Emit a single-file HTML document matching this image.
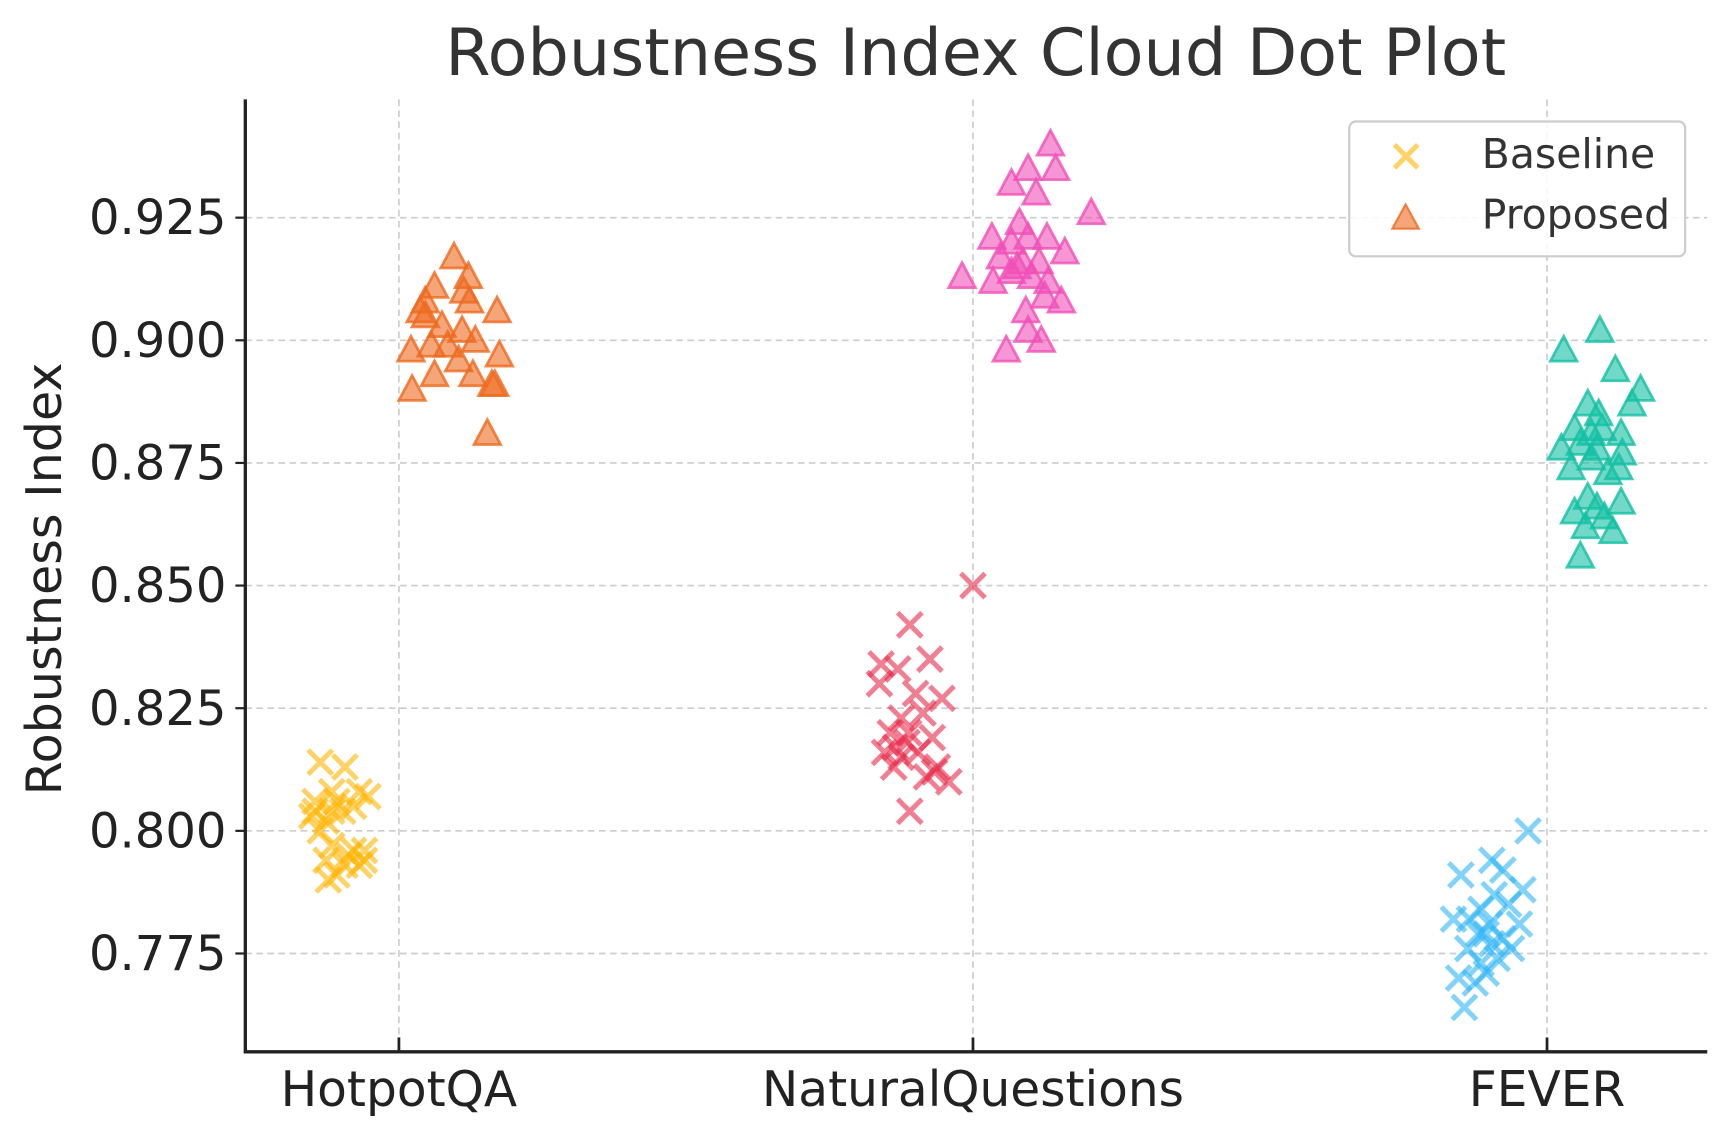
<!DOCTYPE html>
<html><head><meta charset="utf-8"><style>
html,body{margin:0;padding:0;background:#fff;}
svg{display:block;font-family:"DejaVu Sans","Liberation Sans",sans-serif;}
</style></head><body>
<svg id="chart" width="1732" height="1138" viewBox="0 0 1567.4 1030" preserveAspectRatio="none" xmlns="http://www.w3.org/2000/svg">
<text x="883" y="68" text-anchor="middle" font-size="59" fill="#333">Robustness Index Cloud Dot Plot</text>
<text transform="translate(55,524) rotate(-90)" text-anchor="middle" font-size="44.5" fill="#222">Robustness Index</text>
<g id="grid"></g>
<g id="marks"></g>
<g id="axes"></g>
<g>
<rect x="1221" y="110" width="304" height="122" rx="6" fill="#fff" fill-opacity="0.85" stroke="#ccc" stroke-width="2"/>
<g>
<path d="M1262,131 L1283,152 M1283,131 L1262,152" stroke="#FFB400" stroke-opacity="0.6" stroke-width="4.5"/>
<text x="1341" y="152" font-size="37" fill="#333">Baseline</text></g>
<g>
<path d="M1272,185 L1284,207 L1260,207 Z" fill="#EE6A1F" fill-opacity="0.6" stroke="#EE6A1F" stroke-opacity="0.8" stroke-width="2"/>
<text x="1341" y="207" font-size="37" fill="#333">Proposed</text></g>
</g>
</svg>
<script>
const categories = ["HotpotQA","NaturalQuestions","FEVER"];
const yTicks = [0.775,0.800,0.825,0.850,0.875,0.900,0.925];
const yTickLabels = ["0.775","0.800","0.825","0.850","0.875","0.900","0.925"];
const hotpotBaseVals = [0.814,0.813,0.808,0.806,0.808,0.807,0.806,0.803,0.802,0.805,0.804,0.800,0.797,0.796,0.796,0.794,0.793,0.793,0.791,0.790,0.794,0.795,0.804,0.804];
const hotpotBaseJit = [-0.137,-0.094,-0.117,-0.146,-0.069,-0.054,-0.108,-0.152,-0.127,-0.079,-0.098,-0.137,-0.117,-0.079,-0.060,-0.127,-0.094,-0.069,-0.108,-0.123,-0.060,-0.088,-0.146,-0.117];
const hotpotPropVals = [0.917,0.911,0.913,0.908,0.906,0.908,0.906,0.903,0.902,0.900,0.898,0.899,0.899,0.897,0.896,0.893,0.893,0.891,0.891,0.890,0.881,0.905,0.910];
const hotpotPropJit = [0.096,0.062,0.121,0.046,0.037,0.123,0.171,0.075,0.110,0.133,0.021,0.056,0.085,0.175,0.104,0.062,0.129,0.162,0.167,0.023,0.154,0.046,0.113];
const nqBaseVals = [0.850,0.842,0.834,0.833,0.835,0.830,0.828,0.827,0.823,0.824,0.820,0.820,0.819,0.816,0.815,0.816,0.813,0.813,0.811,0.810,0.812,0.804,0.818,0.817];
const nqBaseJit = [0,-0.110,-0.160,-0.131,-0.075,-0.163,-0.100,-0.054,-0.125,-0.087,-0.144,-0.112,-0.071,-0.154,-0.125,-0.096,-0.062,-0.138,-0.081,-0.042,-0.067,-0.110,-0.115,-0.135];
const nqPropVals = [0.940,0.935,0.935,0.932,0.930,0.926,0.924,0.921,0.920,0.921,0.921,0.918,0.917,0.916,0.916,0.913,0.912,0.914,0.913,0.912,0.909,0.908,0.906,0.902,0.900,0.898,0.915];
const nqPropJit = [0.135,0.096,0.144,0.067,0.110,0.206,0.081,0.033,0.067,0.096,0.129,0.160,0.048,0.087,0.115,-0.019,0.035,0.067,0.102,0.131,0.125,0.154,0.092,0.096,0.119,0.058,0.077];
const feverBaseVals = [0.800,0.794,0.791,0.792,0.788,0.787,0.784,0.785,0.782,0.781,0.782,0.781,0.779,0.778,0.776,0.776,0.773,0.774,0.771,0.770,0.769,0.764,0.777,0.779];
const feverBaseJit = [-0.033,-0.096,-0.150,-0.077,-0.042,-0.092,-0.115,-0.067,-0.163,-0.100,-0.135,-0.048,-0.106,-0.077,-0.138,-0.062,-0.115,-0.087,-0.106,-0.154,-0.125,-0.144,-0.096,-0.119];
const feverPropVals = [0.902,0.898,0.894,0.890,0.887,0.887,0.885,0.882,0.881,0.882,0.881,0.878,0.879,0.878,0.877,0.874,0.876,0.874,0.873,0.868,0.867,0.865,0.866,0.864,0.862,0.861,0.856];
const feverPropJit = [0.092,0.029,0.119,0.163,0.148,0.071,0.090,0.048,0.077,0.096,0.129,0.025,0.058,0.087,0.131,0.042,0.077,0.125,0.106,0.071,0.129,0.048,0.087,0.100,0.067,0.115,0.058];

const NS="http://www.w3.org/2000/svg";
const L=222,R=1545,T=90,B=952;
function xScale(i){return 361+i*519.5;}
function yScale(v){return 308-(v-0.9)*4440;}
function mk(tag,attrs,parent){const e=document.createElementNS(NS,tag);for(const k in attrs)e.setAttribute(k,attrs[k]);parent.appendChild(e);return e;}
const grid=document.getElementById('grid'),marks=document.getElementById('marks'),axes=document.getElementById('axes');
yTicks.forEach((t,i)=>{
  const y=yScale(t);
  const g=mk('line',{x1:L,x2:R,y1:y,y2:y,stroke:'#ccc','stroke-width':1.5,'stroke-dasharray':'6,4'},grid);
  
  
  const tk=mk('line',{x1:L-9,x2:L,y1:y,y2:y,stroke:'#222','stroke-width':2},axes);
  
  
  const tx=mk('text',{x:L-17,y:y+15,'text-anchor':'end','font-size':43.5,fill:'#222'},axes);
  tx.textContent=yTickLabels[i];
  
  
});
categories.forEach((c,i)=>{
  const x=xScale(i);
  const g=mk('line',{x1:x,x2:x,y1:T,y2:B,stroke:'#ccc','stroke-width':1.5,'stroke-dasharray':'6,4'},grid);
  
  
  const tk=mk('line',{x1:x,x2:x,y1:B,y2:B-13,stroke:'#222','stroke-width':2.5},axes);
  
  
  const tx=mk('text',{x:x,y:1001,'text-anchor':'middle','font-size':44,fill:'#222'},axes);
  tx.textContent=c;
  
  
});
const ax=mk('path',{d:`M${L},${T} L${L},${B} L${R},${B}`,fill:'none',stroke:'#222','stroke-width':3},axes);



function drawX(ci,vals,jit,color){
  vals.forEach((v,k)=>{
    const x=xScale(ci+jit[k]),y=yScale(v),s=11;
    const p=mk('path',{d:`M${x-s},${y-s} L${x+s},${y+s} M${x+s},${y-s} L${x-s},${y+s}`,stroke:color,'stroke-opacity':0.6,'stroke-width':4.5},marks);
    
    
  });
}
function drawTri(ci,vals,jit,color){
  vals.forEach((v,k)=>{
    const x=xScale(ci+jit[k]),y=yScale(v);
    const p=mk('path',{d:`M${x},${y-12.5} L${x+12},${y+10} L${x-12},${y+10} Z`,fill:color,'fill-opacity':0.6,stroke:color,'stroke-opacity':0.8,'stroke-width':2.5},marks);
    
    
  });
}
drawX(0,hotpotBaseVals,hotpotBaseJit,'#FFB400');
drawTri(0,hotpotPropVals,hotpotPropJit,'#EE6A1F');
drawX(1,nqBaseVals,nqBaseJit,'#E8294A');
drawTri(1,nqPropVals,nqPropJit,'#F050B8');
drawX(2,feverBaseVals,feverBaseJit,'#2EB5F5');
drawTri(2,feverPropVals,feverPropJit,'#14BFA4');
</script>
</body></html>
